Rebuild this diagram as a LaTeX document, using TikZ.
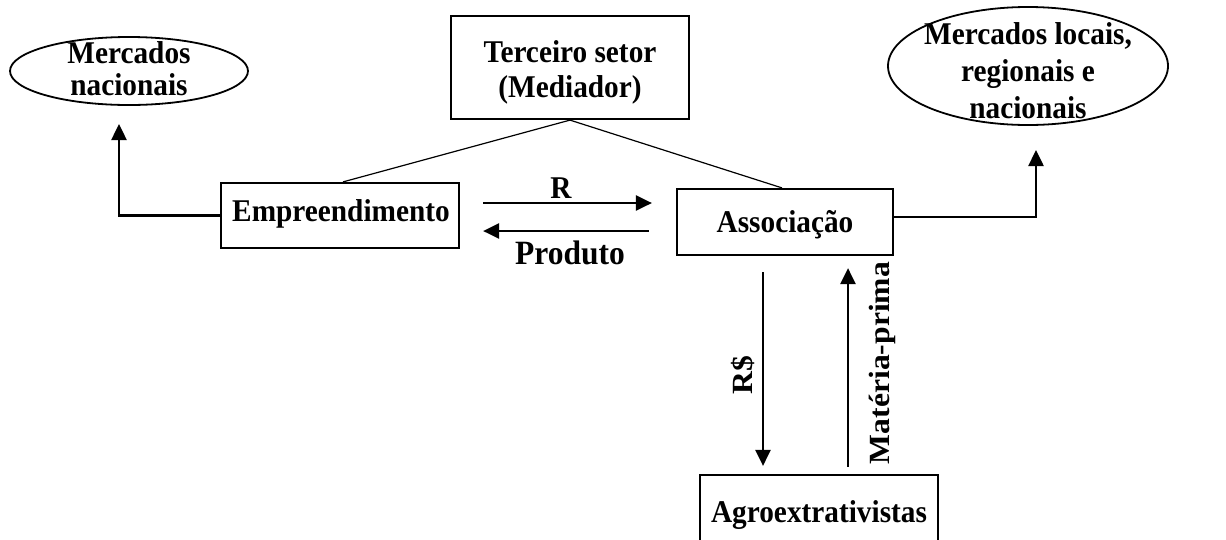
\documentclass[tikz,border=0pt]{standalone}
\usepackage{fontspec}
\setmainfont{Liberation Serif}
\usetikzlibrary{shapes.geometric,arrows.meta,calc}
\newcommand{\vst}[1]{\scalebox{1}[1.08]{#1}}
\newcommand{\hst}[1]{\scalebox{1.08}[1]{#1}}
\begin{document}
\begin{tikzpicture}[x=1pt,y=-1pt,
  every node/.style={font=\bfseries\fontsize{29.3}{31}\selectfont, inner sep=0pt},
  boxnode/.style={draw, line width=2.2pt, rectangle},
  ovalnode/.style={draw, line width=1.8pt, ellipse},
  txt/.style={align=center},
  arr/.style={line width=2.5pt, -{Triangle[length=16pt,width=15pt]}},
  thinline/.style={line width=1.2pt}]
\useasboundingbox (0,0) rectangle (1226,539);
\clip (0,0) rectangle (1226,539);
% shapes
\node[ovalnode, minimum width=238pt, minimum height=68pt] (mn) at (129,71) {};
\node[boxnode, minimum width=238pt, minimum height=103pt] (ts) at (570,67.5) {};
\node[boxnode, minimum width=238pt, minimum height=65pt] (emp) at (340,215.5) {};
\node[boxnode, minimum width=216pt, minimum height=66pt] (ass) at (785,222) {};
\node[ovalnode, minimum width=280pt, minimum height=118pt] (ml) at (1028,66) {};
\node[boxnode, minimum width=238pt, minimum height=80pt] (agro) at (819,515) {};
% texts
\node[txt, font=\bfseries\fontsize{29.3}{32}\selectfont] (mnt) at (129,69) {\vst{Mercados}\\\vst{nacionais}};
\node[txt, font=\bfseries\fontsize{29.3}{35}\selectfont] (tst) at (570,72) {\vst{Terceiro setor}\\\vst{(Mediador)}};
\node[txt] (empt) at (341,214) {\vst{Empreendimento}};
\node[txt] (asst) at (785,225) {\vst{Associação}};
\node[txt, font=\bfseries\fontsize{29.3}{37}\selectfont] (mlt) at (1028,71) {\vst{Mercados locais,}\\\vst{regionais e}\\\vst{nacionais}};
\node[txt] (agrot) at (819,515) {\vst{Agroextrativistas}};
\coordinate (mnArr) at (119,124);
\coordinate (mlArr) at (1036,150);
% connectors
\draw[arr] (emp.west) -| (mnArr);
\draw[arr] ([yshift=5pt]ass.east) -| (mlArr);
\draw[thinline] (ts.south) -- ([xshift=3pt]emp.north);
\draw[thinline] (ts.south) -- ([xshift=-3pt]ass.north);
\draw[arr, shorten >=24pt] ([xshift=23pt,yshift=12.5pt]emp.east) -- ([yshift=12.5pt]emp.east -| ass.west);
\node (rl) at (561,188) {\vst{R}};
\draw[arr, shorten <=27pt, shorten >=23pt] ([yshift=-15.5pt]emp.east -| ass.west) -- ([yshift=-15.5pt]emp.east);
\node[font=\bfseries\fontsize{31.5}{34}\selectfont] (pl) at (570,253) {\vst{Produto}};
\draw[arr, shorten <=16pt, shorten >=8pt] ([xshift=-22pt]ass.south) -- ([xshift=-22pt]ass.south |- agro.north);
\draw[arr, shorten <=7pt, shorten >=12pt] ([xshift=63pt]ass.south |- agro.north) -- ([xshift=63pt]ass.south);
\node[rotate=90] (rs) at (743,375) {\hst{R\$}};
\node[rotate=90] (mp) at (882,363) {\hst{Matéria-prima}};
\end{tikzpicture}
\end{document}
